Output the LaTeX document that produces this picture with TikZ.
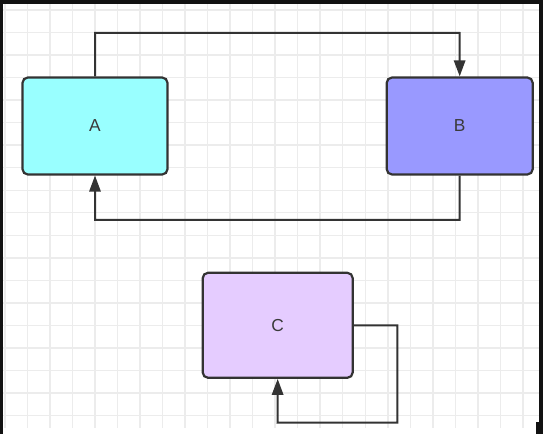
\documentclass[tikz,border=0pt]{standalone}
\usepackage{fontspec}
\setmainfont{Liberation Sans}
\usetikzlibrary{arrows.meta}
\definecolor{gridc}{HTML}{ECECEC}
\definecolor{strokec}{HTML}{333333}
\definecolor{fillA}{HTML}{99FFFF}
\definecolor{fillB}{HTML}{9999FF}
\definecolor{fillC}{HTML}{E5CCFF}
\definecolor{textc}{HTML}{3A3A3A}
\tikzset{
  box/.style={draw=strokec, line width=2.2pt*0.75, rounded corners=4pt, inner sep=0pt,
    text=textc, font=\fontsize{13}{15}\selectfont},
  conn/.style={draw=strokec, line width=1.5pt, -{Triangle[length=12pt,width=8.5pt]}},
}
\begin{document}
\begin{tikzpicture}[x=0.75pt,y=-0.75pt]
\useasboundingbox (0,0) rectangle (543,434);
\fill[white] (0,0) rectangle (543,434);
% grid
\begin{scope}
\clip (3,4) rectangle (539,428);
\foreach \i in {0,...,23} {
  \draw[gridc, line width=1.1pt] ({4.8+22.53*\i},4) -- ({4.8+22.53*\i},428);
}
\foreach \j in {0,...,18} {
  \draw[gridc, line width=1.1pt] (3,{10+22.53*\j}) -- (539,{10+22.53*\j});
}
\end{scope}
% frame
\fill[black!93] (0,0) rectangle (543,4);
\fill[black!93] (0,0) rectangle (3,434);
\fill[black!93] (539,0) rectangle (543,422);
\fill[black!93] (535.5,422) rectangle (543,434);
% boxes
\node[box, fill=fillA, minimum width=145*0.75pt, minimum height=97*0.75pt] (A) at (95,126) {A};
\node[box, fill=fillB, minimum width=146*0.75pt, minimum height=97*0.75pt] (B) at (459.7,126) {B};
\node[box, fill=fillC, minimum width=150*0.75pt, minimum height=105*0.75pt] (C) at (277.7,325.3) {C};
% connectors
\coordinate (p1) at (95,33);
\coordinate (p2) at (459.5,33);
\coordinate (q1) at (459.5,220);
\coordinate (q2) at (95,220);
\coordinate (r1) at (397.3,325.3);
\coordinate (r2) at (397.3,422.7);
\coordinate (r3) at (277.5,422.7);
\draw[conn] (A.north) -- (p1) -- (p2) -- (B.north);
\draw[conn] (B.south) -- (q1) -- (q2) -- (A.south);
\draw[conn] (C.east) -- (r1) -- (r2) -- (r3) -- (C.south);
\end{tikzpicture}
\end{document}
